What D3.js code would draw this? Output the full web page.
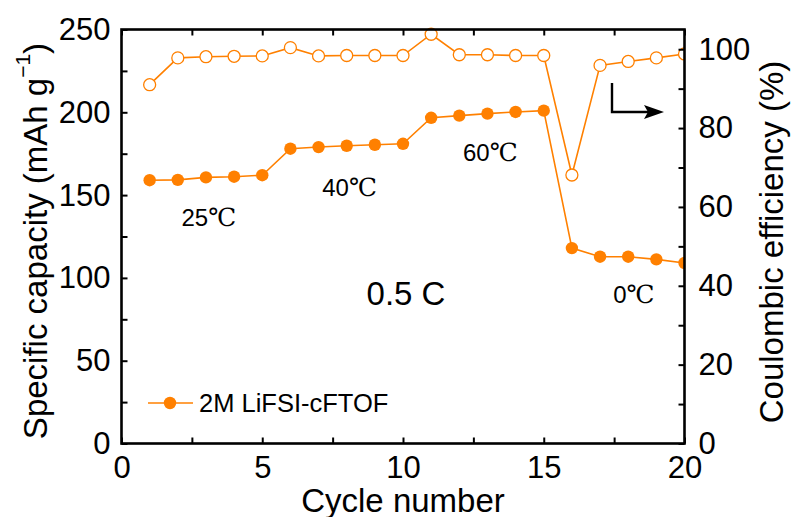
<!DOCTYPE html>
<html>
<head>
<meta charset="utf-8">
<script src="https://cdn.jsdelivr.net/npm/d3@7"></script>
<style>
  html, body { margin: 0; padding: 0; background: #fff; }
  svg text { font-family: "Liberation Sans", Arial, sans-serif; fill: #000; }
</style>
</head>
<body>
<svg id="chart" width="791" height="517"></svg>
<script>
// Rate / temperature test, cycle-by-cycle
const cycles = d3.range(1, 21);
const capacity = [159, 159.2, 160.7, 161.1, 162, 178, 179, 179.8, 180.4, 181,
                  196.7, 198, 199.2, 200.2, 201, 118, 112.8, 112.8, 111.2, 109];
const efficiency = [91, 97.8, 98.1, 98.2, 98.3, 100.4, 98.3, 98.4, 98.4, 98.4,
                    103.8, 98.6, 98.6, 98.4, 98.4, 68.1, 95.9, 96.9, 97.8, 98.8];
const xTicks = [0, 5, 10, 15, 20];
const yLeftTicks = [0, 50, 100, 150, 200, 250];
const yRightTicks = [0, 20, 40, 60, 80, 100];
const tempLabels = [
  { num: "25", cx: 3.1, cap: 137 },
  { num: "40", cx: 8.1, cap: 155 },
  { num: "60", cx: 13.1, cap: 176 },
  { num: "0", cx: 18.2, cap: 90 }
];
const seriesName = "2M LiFSI-cFTOF";
const rateLabel = "0.5 C";

const color = "#ff8000";
const svg = d3.select("#chart");
const L = 121.5, R = 684.5, T = 29.5, B = 443.5;

const x = d3.scaleLinear().domain([0, 20]).range([L, R]);
const yL = d3.scaleLinear().domain([0, 250]).range([B, T]);
const yR = d3.scaleLinear().domain([0, 105]).range([B, T]);

svg.append("defs").append("clipPath").attr("id", "plot")
  .append("rect").attr("x", L).attr("y", T - 10).attr("width", R - L).attr("height", B - T + 10);

const plot = svg.append("g").attr("clip-path", "url(#plot)");

// Coulombic efficiency: open circles on right axis
plot.append("path")
  .datum(efficiency)
  .attr("fill", "none").attr("stroke", color).attr("stroke-width", 1.6)
  .attr("d", d3.line().x((d, i) => x(cycles[i])).y(d => yR(d)));
plot.selectAll("circle.ce").data(efficiency).join("circle")
  .attr("class", "ce")
  .attr("cx", (d, i) => x(cycles[i])).attr("cy", d => yR(d)).attr("r", 6)
  .attr("fill", "#fff").attr("stroke", color).attr("stroke-width", 1.3);

// Specific capacity: filled circles on left axis
plot.append("path")
  .datum(capacity)
  .attr("fill", "none").attr("stroke", color).attr("stroke-width", 1.6)
  .attr("d", d3.line().x((d, i) => x(cycles[i])).y(d => yL(d)));
plot.selectAll("circle.cap").data(capacity).join("circle")
  .attr("class", "cap")
  .attr("cx", (d, i) => x(cycles[i])).attr("cy", d => yL(d)).attr("r", 6.2)
  .attr("fill", color);

// Axes with inward ticks (major + minor)
const axW = 2.6, tickW = 2, tickLen = 6;
function drawAxis(axisGen, tf) {
  const g = svg.append("g").attr("transform", tf).call(axisGen);
  g.select(".domain").remove();
  g.selectAll(".tick line").attr("stroke", "#000").attr("stroke-width", tickW);
  return g;
}
const fs = 31;

// bottom
const gB = drawAxis(d3.axisBottom(x).tickValues(xTicks).tickSize(-tickLen).tickPadding(12), `translate(0,${B})`);
gB.selectAll("text").attr("font-size", fs).attr("dy", "0.72em").attr("font-family", "Liberation Sans");
drawAxis(d3.axisBottom(x).tickValues(d3.range(2.5, 20, 5)).tickSize(-tickLen).tickFormat(""), `translate(0,${B})`);
// top
drawAxis(d3.axisTop(x).tickValues(xTicks).tickSize(-tickLen).tickFormat(""), `translate(0,${T})`);
drawAxis(d3.axisTop(x).tickValues(d3.range(2.5, 20, 5)).tickSize(-tickLen).tickFormat(""), `translate(0,${T})`);
// left
const gL = drawAxis(d3.axisLeft(yL).tickValues(yLeftTicks).tickSize(-tickLen).tickPadding(11), `translate(${L},0)`);
gL.selectAll("text").attr("font-size", fs).attr("font-family", "Liberation Sans");
drawAxis(d3.axisLeft(yL).tickValues(d3.range(25, 250, 50)).tickSize(-tickLen).tickFormat(""), `translate(${L},0)`);
// right
const gR = drawAxis(d3.axisRight(yR).tickValues(yRightTicks).tickSize(-tickLen).tickPadding(14), `translate(${R},0)`);
gR.selectAll("text").attr("font-size", fs).attr("font-family", "Liberation Sans");
drawAxis(d3.axisRight(yR).tickValues(d3.range(10, 105, 20)).tickSize(-tickLen).tickFormat(""), `translate(${R},0)`);

// frame
svg.append("rect").attr("x", L).attr("y", T).attr("width", R - L).attr("height", B - T)
  .attr("fill", "none").attr("stroke", "#000").attr("stroke-width", axW);

// axis titles
svg.append("text").attr("x", x(10)).attr("y", 500).attr("text-anchor", "middle")
  .attr("dominant-baseline", "central").attr("font-size", 33).text("Cycle number");

const lt = svg.append("text").attr("transform", `translate(35,241) rotate(-90)`)
  .attr("text-anchor", "middle").attr("dominant-baseline", "central").attr("font-size", 33);
lt.append("tspan").text("Specific capacity (mAh g");
lt.append("tspan").attr("font-size", 21).attr("dy", -13).text("\u22121");
lt.append("tspan").attr("dy", 13).text(")");

svg.append("text").attr("transform", `translate(771,242) rotate(-90)`)
  .attr("text-anchor", "middle").attr("dominant-baseline", "central").attr("font-size", 33)
  .text("Coulombic efficiency (%)");

// temperature labels
tempLabels.forEach(t => {
  const tx = svg.append("text").attr("x", x(t.cx)).attr("y", yL(t.cap))
    .attr("text-anchor", "middle").attr("dominant-baseline", "central").attr("font-size", 24);
  tx.append("tspan").text(t.num);
  tx.append("tspan").attr("font-family", "'DejaVu Serif', 'Noto Sans CJK SC', serif").attr("font-size", 25).text("\u2103");
});

// rate label
svg.append("text").attr("x", 406).attr("y", 293).attr("text-anchor", "middle")
  .attr("dominant-baseline", "central").attr("font-size", 33).text(rateLabel);

// arrow pointing to right axis
svg.append("path").attr("d", "M612,83 V112 H648").attr("fill", "none")
  .attr("stroke", "#000").attr("stroke-width", 2.4);
svg.append("path").attr("d", "M664,112 L644,105 L648,112 L644,119 Z").attr("fill", "#000");

// legend
const lgY = 403;
svg.append("line").attr("x1", 148).attr("x2", 193).attr("y1", lgY).attr("y2", lgY)
  .attr("stroke", color).attr("stroke-width", 1.6);
svg.append("circle").attr("cx", 170).attr("cy", lgY).attr("r", 6.2).attr("fill", color);
svg.append("text").attr("x", 199).attr("y", lgY).attr("dominant-baseline", "central")
  .attr("font-size", 25.5).text(seriesName);
</script>
</body>
</html>
